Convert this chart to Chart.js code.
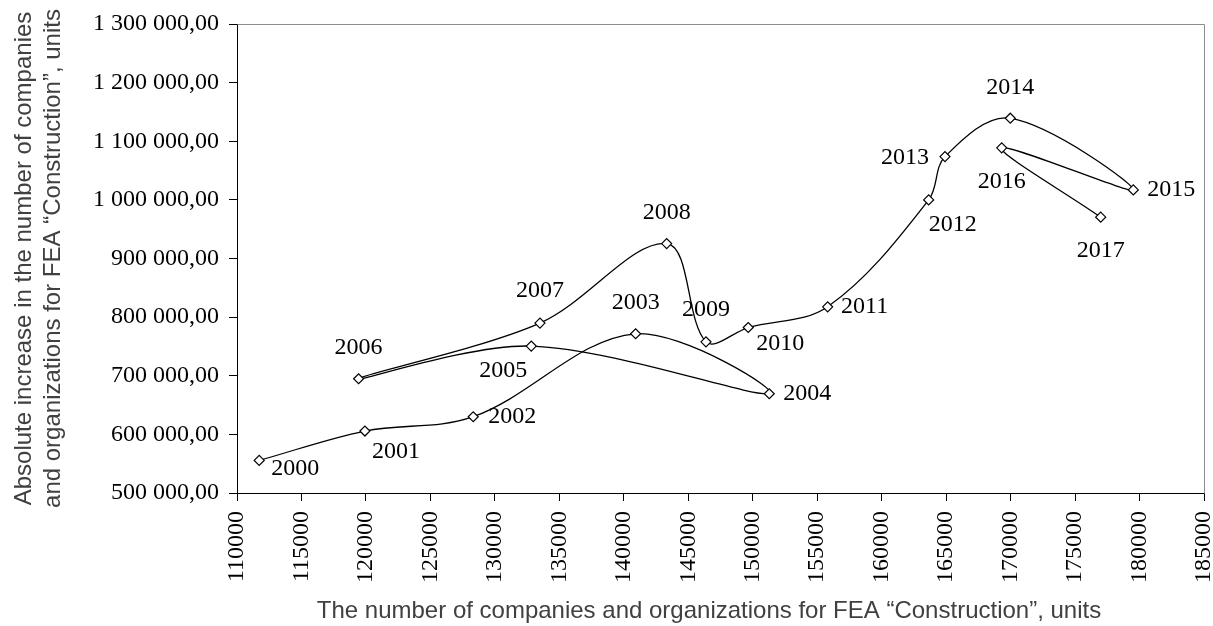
<!DOCTYPE html>
<html><head><meta charset="utf-8">
<script src="https://cdn.jsdelivr.net/npm/chart.js@4.4.1/dist/chart.umd.min.js"></script>
<style>html,body{margin:0;padding:0;background:#fff}#wrap{width:1213px;height:626px;position:relative}</style>
</head><body><div id="wrap"><canvas id="c"></canvas></div>
<script>
// ---- data ----
const years = ['2000','2001','2002','2003','2004','2005','2006','2007','2008','2009','2010','2011','2012','2013','2014','2015','2016','2017'];
const companies = [111722,119921,128322,140918,151282,132821,119432,133495,143323,146372,149653,155811,163646,164910,169976,179516,169309,176987];
const increase = [555600,605700,630100,771600,669300,750600,694900,789800,925500,757900,782300,817600,1000000,1073800,1139300,1017000,1088700,970500];
const xTickValues = [110000,115000,120000,125000,130000,135000,140000,145000,150000,155000,160000,165000,170000,175000,180000,185000];
const yTickValues = [500000,600000,700000,800000,900000,1000000,1100000,1200000,1300000];
const xTitle = 'The number of companies and organizations for FEA \u201cConstruction\u201d, units';
const yTitle = ['Absolute increase in the number of companies', 'and organizations for FEA \u201cConstruction\u201d, units'];

// ---- label placement (style only) ----
const labelOffset = {
  '2000':[36,8],'2001':[31,21],'2002':[39,0],'2003':[0,-31],'2004':[38,0],'2005':[-28,25],
  '2006':[0,-31],'2007':[0,-32],'2008':[0,-31],'2009':[0,-32],'2010':[32,16],'2011':[37,0],
  '2012':[24,25],'2013':[-40,1],'2014':[0,-31],'2015':[38,0],'2016':[0,34],'2017':[0,34]
};

function fmtY(v){
  const s = Math.round(v).toString().replace(/\B(?=(\d{3})+(?!\d))/g,' ');
  return s + ',00';
}

const points = companies.map((x,i)=>({x:x, y:increase[i]}));

const frame = {
  id:'frame',
  beforeDatasetsDraw(chart){
    const {ctx, chartArea:a} = chart;
    ctx.save();
    ctx.strokeStyle = '#8c8c8c'; ctx.lineWidth = 1;
    ctx.beginPath();
    ctx.moveTo(Math.round(a.left)+0.5, Math.round(a.top)+0.5);
    ctx.lineTo(Math.round(a.right)+0.5, Math.round(a.top)+0.5);
    ctx.lineTo(Math.round(a.right)+0.5, Math.round(a.bottom)+0.5);
    ctx.stroke();
    ctx.restore();
  }
};
const yearLabels = {
  id:'yearLabels',
  afterDatasetsDraw(chart){
    const {ctx} = chart;
    const meta = chart.getDatasetMeta(0);
    ctx.save();
    ctx.font = '24px "Liberation Serif"';
    ctx.fillStyle = '#000';
    ctx.textAlign = 'center'; ctx.textBaseline = 'middle';
    meta.data.forEach((el,i)=>{
      const o = labelOffset[years[i]] || [0,-30];
      ctx.fillText(years[i], el.x + o[0], el.y + o[1]);
    });
    ctx.restore();
  }
};
const xTitlePlugin = {
  id:'xTitlePlugin',
  afterDraw(chart){
    const {ctx} = chart;
    ctx.save();
    ctx.font = '24px "Liberation Sans"';
    ctx.fillStyle = '#404040';
    ctx.textAlign = 'center'; ctx.textBaseline = 'middle';
    ctx.fillText(xTitle, 709, 611);
    ctx.restore();
  }
};

new Chart(document.getElementById('c'), {
  type:'scatter',
  data:{ datasets:[{
    data: points,
    showLine:true,
    borderColor:'#000', borderWidth:1.3,
    tension:0.35,
    pointStyle:'rectRot', pointRadius:5, pointHoverRadius:5,
    pointBackgroundColor:'#fff', pointBorderColor:'#000', pointBorderWidth:1.2
  }]},
  options:{
    responsive:true, maintainAspectRatio:false, animation:false,
    events:[],
    layout:{padding:{top:24,right:9,left:0,bottom:0}},
    plugins:{legend:{display:false}, tooltip:{enabled:false}},
    scales:{
      x:{
        type:'linear', min:110000, max:185000,
        afterBuildTicks(s){ s.ticks = xTickValues.map(v=>({value:v})); },
        afterFit(s){ s.height = 133; s.paddingLeft = 0; s.paddingRight = 0; },
        ticks:{ minRotation:90, maxRotation:90, autoSkip:false, padding:10, color:'#000',
          font:{family:'Liberation Serif', size:24}, callback:(v)=>String(v) },
        grid:{ drawOnChartArea:false, drawTicks:true, tickLength:8, color:'#000' },
        border:{ display:true, color:'#000', width:1 }
      },
      y:{
        type:'linear', min:500000, max:1300000,
        afterBuildTicks(s){ s.ticks = yTickValues.map(v=>({value:v})); },
        afterFit(s){ s.width = 237; s.paddingTop = 0; s.paddingBottom = 0; },
        ticks:{ padding:10, color:'#000', font:{family:'Liberation Serif', size:24}, callback:(v)=>fmtY(v) },
        grid:{ drawOnChartArea:false, drawTicks:true, tickLength:8, color:'#000' },
        border:{ display:true, color:'#000', width:1 },
        title:{ display:true, text:yTitle, color:'#404040', padding:{top:9.5,bottom:0},
          font:{family:'Liberation Sans', size:24, lineHeight:1.21} }
      }
    }
  },
  plugins:[frame, yearLabels, xTitlePlugin]
});
</script></body></html>
